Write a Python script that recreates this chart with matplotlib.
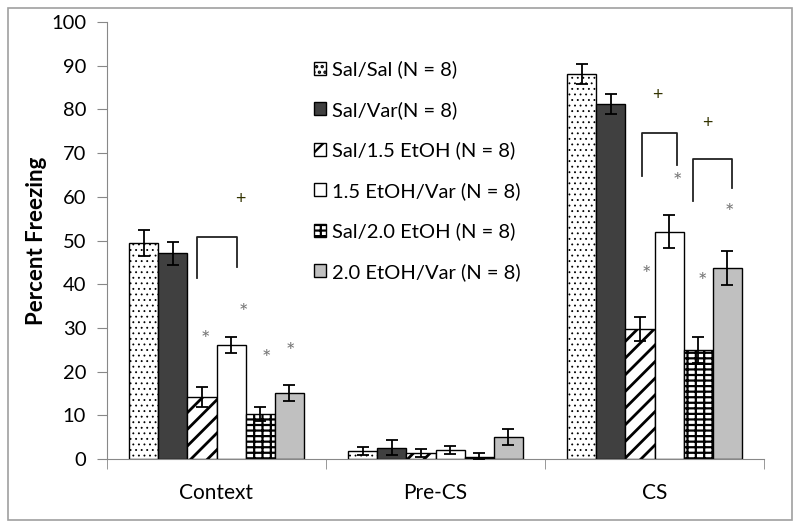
import numpy as np
import matplotlib
matplotlib.use("Agg")
import matplotlib.pyplot as plt
from matplotlib.patches import Rectangle

plt.rcParams['font.family'] = ['Lato', 'DejaVu Sans']
plt.rcParams['hatch.linewidth'] = 1.6

# data
phases = ['Context', 'Pre-CS', 'CS']
groups = ['Sal/Sal (N = 8)', 'Sal/Var(N = 8)', 'Sal/1.5 EtOH (N = 8)',
          '1.5 EtOH/Var (N = 8)', 'Sal/2.0 EtOH (N = 8)', '2.0 EtOH/Var (N = 8)']
sal_sal = [49.4, 1.9, 88.1]
sal_var = [47.1, 2.6, 81.2]
sal_15 = [14.2, 1.3, 29.7]
etoh15_var = [26.1, 2.0, 52.0]
sal_20 = [10.3, 0.5, 24.9]
etoh20_var = [15.1, 5.0, 43.7]
err_sal_sal = [3.0, 0.9, 2.3]
err_sal_var = [2.6, 1.7, 2.3]
err_sal_15 = [2.3, 0.9, 2.7]
err_etoh15_var = [1.8, 0.9, 3.8]
err_sal_20 = [1.6, 0.8, 3.0]
err_etoh20_var = [1.8, 1.9, 3.9]

# significance marks
star_x = [-0.053, 0.121, 0.226, 0.336, 1.961, 2.103, 2.217, 2.34]
star_y = [28.8, 35.0, 24.3, 26.0, 43.7, 64.8, 42.1, 57.9]
plus_x = [0.107, 2.011, 2.24]
plus_y = [59.5, 83.3, 77.0]
# brackets: left x, right x, top y, left leg bottom, right leg bottom
brackets = [(-0.089, 0.094, 50.8, 41.4, 44.0),
            (1.943, 2.103, 74.6, 64.8, 67.3),
            (2.176, 2.354, 68.6, 59.0, 62.0)]

values = [sal_sal, sal_var, sal_15, etoh15_var, sal_20, etoh20_var]
errors = [err_sal_sal, err_sal_var, err_sal_15, err_etoh15_var, err_sal_20, err_etoh20_var]
faces = ['white', '#404040', 'white', 'white', 'white', '#c0c0c0']
hatches = ['...', None, '//', None, '---||', None]
hatch_lw = [0.6, 1.0, 2.0, 1.0, 1.6, 1.0]

fig = plt.figure(figsize=(8, 5.28), dpi=100)
fig.patches.append(Rectangle((0.01, 0.015), 0.98, 0.97, transform=fig.transFigure,
                             fill=False, edgecolor='#a0a0a0', lw=1.2))
ax = fig.add_axes([107/800, 69/528, 657/800, 437/528])

x = np.arange(len(phases))
w = 0.133
for i in range(6):
    pos = x + (i - 2.5) * w
    bars = ax.bar(pos, values[i], w, color=faces[i], edgecolor='black', lw=1.0,
                  hatch=hatches[i], label=groups[i], zorder=2)
    for b in bars:
        if hasattr(b, 'set_hatch_linewidth'):
            b.set_hatch_linewidth(hatch_lw[i])
    ax.errorbar(pos, values[i], yerr=errors[i], fmt='none', ecolor='black',
                elinewidth=1.3, capsize=4.5, capthick=1.3, zorder=3)

for sx, sy in zip(star_x, star_y):
    ax.text(sx, sy - 1.5, '*', ha='center', va='center', fontsize=16, color='#777777')
for px, py in zip(plus_x, plus_y):
    ax.text(px, py, '+', ha='center', va='center', fontsize=13, color='#333300')
for l, r, top, lb, rb in brackets:
    ax.plot([l, l, r, r], [lb, top, top, rb], color='#222222', lw=1.3)

ax.set_xlim(-0.5, 2.5)
ax.set_ylim(0, 100)
ax.set_yticks(np.arange(0, 101, 10))
ax.set_xticks(x)
ax.set_xticklabels(phases, fontsize=15)
ax.set_xticks([-0.5, 0.5, 1.5, 2.5], minor=True)
ax.tick_params(axis='x', which='major', length=0, pad=17)
ax.tick_params(axis='x', which='minor', length=7, color='#888888')
ax.tick_params(axis='y', length=7, color='#888888', labelsize=14.5, pad=8)
ax.set_ylabel('Percent Freezing', fontsize=16, fontweight='bold', labelpad=3)
for s in ['top', 'right']:
    ax.spines[s].set_visible(False)
for s in ['left', 'bottom']:
    ax.spines[s].set_color('#888888')

ax.legend(loc='upper left', bbox_to_anchor=(0.30, 0.935), frameon=False,
          fontsize=14.5, handlelength=0.6, handleheight=0.6, handletextpad=0.3,
          labelspacing=1.12, borderpad=0)

fig.savefig('out.png', dpi=100)
